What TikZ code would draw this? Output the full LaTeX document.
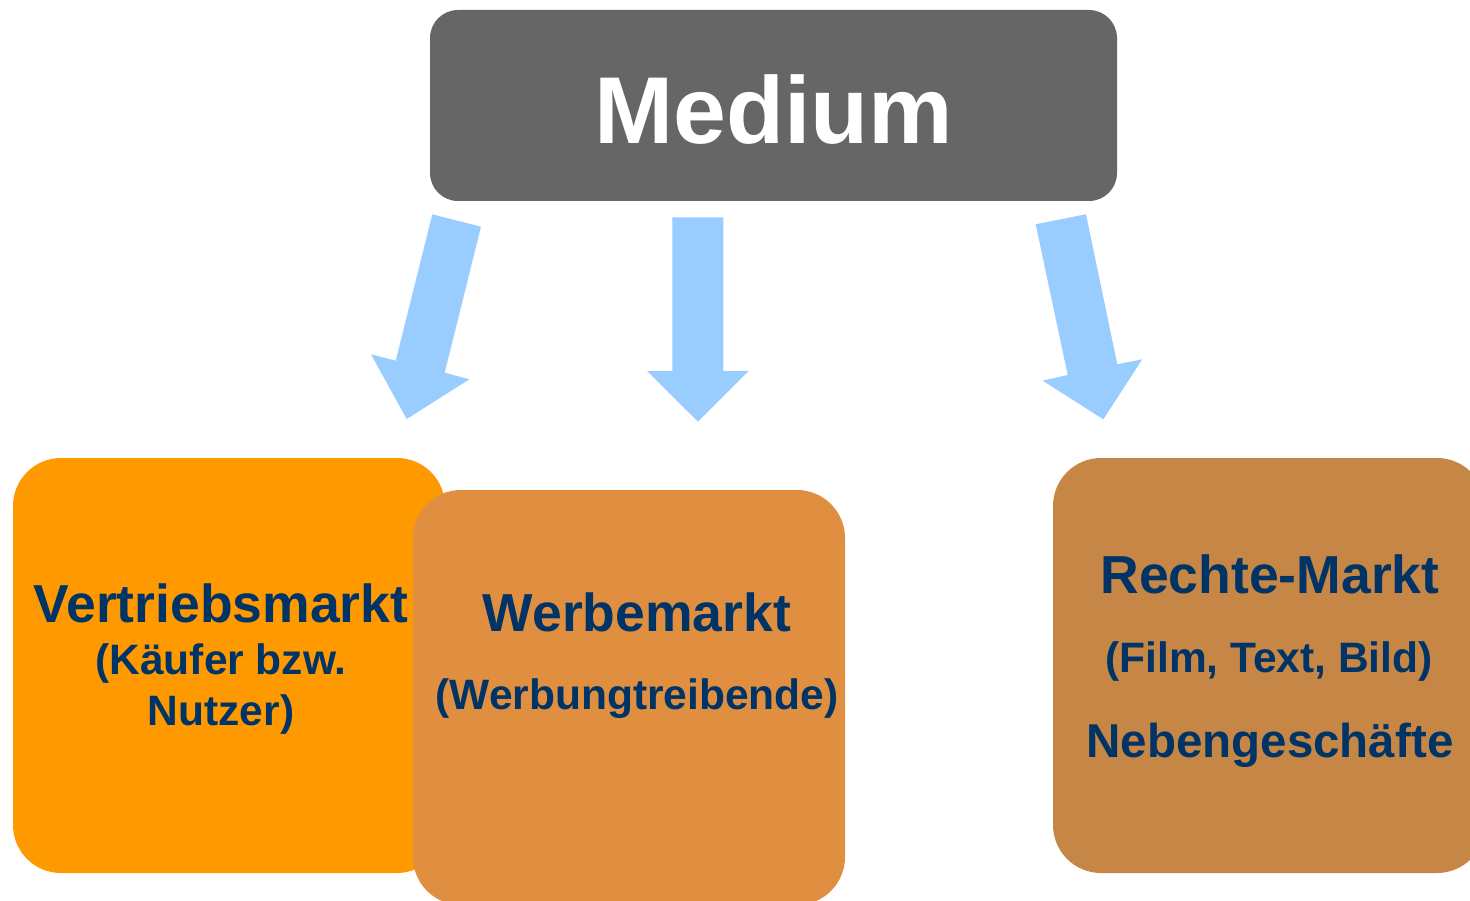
\documentclass[tikz,border=0pt]{standalone}
\usepackage{fontspec}
\setmainfont{Liberation Sans}
\definecolor{mediumgray}{HTML}{666666}
\definecolor{arrowblue}{HTML}{99CCFF}
\definecolor{vorange}{HTML}{FF9900}
\definecolor{worange}{HTML}{DF8F3F}
\definecolor{rbrown}{HTML}{C68646}
\definecolor{navy}{HTML}{003366}
\begin{document}
\begin{tikzpicture}[x=1pt,y=-1pt,
  box/.style={fill=#1, draw=none, rounded corners=48pt, minimum width=432pt, minimum height=415pt, inner sep=0pt},
  blockarrow/.style={fill=arrowblue, draw=none},
  bigtxt/.style={anchor=base, text=navy, font=\bfseries\fontsize{53.5}{60}\selectfont, inner sep=0pt},
  smalltxt/.style={anchor=base, text=navy, font=\bfseries\fontsize{42.5}{50}\selectfont, inner sep=0pt}]
\clip (0,0) rectangle (1470,901);
\fill[white] (0,0) rectangle (1470,901);

% top box
\node[fill=mediumgray, draw=none, rounded corners=28pt, minimum width=687pt, minimum height=191pt, inner sep=0pt] (medium) at (773.5,105.5) {};
\node[anchor=base, text=white, font=\bfseries\fontsize{95}{110}\selectfont, inner sep=0pt] (mediumtxt) at (773.5,144) {Medium};

% block arrows
\path[blockarrow] (432.3,214.3) -- (481,226.7) -- (444.7,372.7) -- (469.3,379.3) -- (406.7,419) -- (371,354.3) -- (395.7,360.7) -- cycle;
\path[blockarrow] (672.3,217.3) -- (723.3,217.3) -- (723.3,371) -- (748.7,371) -- (698,421.7) -- (647,371) -- (672.3,371) -- cycle;
\path[blockarrow] (1035.7,224.3) -- (1086,214.3) -- (1117.3,364.3) -- (1142.3,359.3) -- (1103.3,419.3) -- (1042.7,380.7) -- (1067.7,375) -- cycle;

% market boxes
\node[box=vorange] (vbox) at (229,665.5) {};
\node[box=worange] (wbox) at (629,697.5) {};
\node[box=rbrown] (rbox) at (1269,665.5) {};

% texts
\node[bigtxt] (v1) at (221,622) {Vertriebsmarkt};
\node[smalltxt] (v2) at (221,674) {(Käufer bzw.};
\node[smalltxt] (v3) at (221,725) {Nutzer)};

\node[bigtxt] (w1) at (637,631) {Werbemarkt};
\node[smalltxt] (w2) at (637,709) {(Werbungtreibende)};

\node[bigtxt] (r1) at (1270,593) {Rechte-Markt};
\node[smalltxt] (r2) at (1269,672) {(Film, Text, Bild)};
\node[anchor=base, text=navy, font=\bfseries\fontsize{47.5}{55}\selectfont, inner sep=0pt] (r3) at (1270,757) {Nebengeschäfte};
\end{tikzpicture}
\end{document}
